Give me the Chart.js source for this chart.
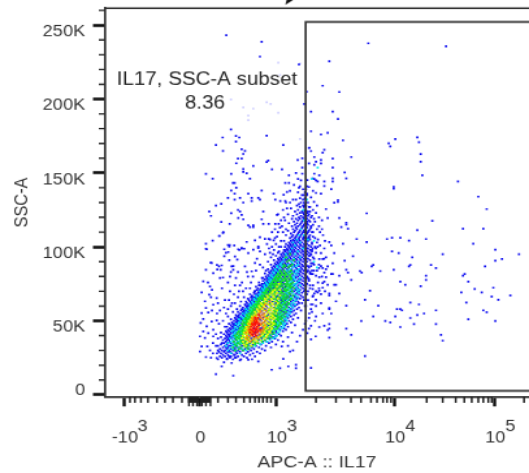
<!DOCTYPE html>
<html>
<head>
<meta charset="utf-8">
<script src="https://cdn.jsdelivr.net/npm/chart.js@4"></script>
<style>
html, body { margin: 0; padding: 0; background: #fff; overflow: hidden; }
</style>
</head>
<body>
<canvas id="plot" width="407" height="418" style="width:529px;height:473px;display:block;filter:blur(0.35px)"></canvas>
<script>
// x values are display channels of the biexponential APC-A axis, y values are SSC-A in thousands
var xTickValues = [24, 99.5, 176, 294.3, 394.3];
var xTickLabels = ["-10", "0", "10", "10", "10"];
var xTickPowers = ["3", "", "3", "4", "5"];
var yTickValues = [0, 50, 100, 150, 200, 250];
var yTickLabels = ["0", "50K", "100K", "150K", "200K", "250K"];
var xMinorTicks = [30, 35, 41, 48, 57, 65, 73, 82, 118, 128, 136, 144, 150, 155, 159, 163, 167, 171, 216, 236, 251, 261, 271, 277, 283, 287, 291, 326.7, 342.7, 355.7, 364.3, 371.7, 378.3, 383.3, 388.3, 391.7, 424];
var xZeroTicks = [89, 90.5, 92, 93.5, 95, 96.5, 98, 101, 102.5, 104, 105.5, 107, 108.5, 110];
var xZeroTallTicks = [89, 93, 97, 102, 106, 110.5];
var yMinorTicks = [10, 20, 30, 40, 60, 70, 80, 90, 110, 120, 130, 140, 160, 170, 180, 190, 210, 220, 230, 240, 260];
var gateX = [440, 205.7, 205.7, 440];
var gateY = [252.2, 252.2, 2.7, 2.7];

// single events read one by one, as [channel, SSC-A] pairs
var paleEvents = [178.3,224.6, 180,216.3, 131,199.8, 143.3,194.4, 153.3,193.5, 148.3,188.8, 148.3,185.8, 166.7,197.8, 170.7,196.6, 178.3,190.8, 200,224, 200,173];
var sparseEvents = [
  126.3,243.1, 161.7,238.8, 160,228.7, 199,223.5, 206.7,205, 204.3,196.6, 131,179.5, 122.7,174, 136,175, 139.3,174, 136,171.2, 166.7,175.2, 116,168.9, 183.3,168.9, 197.7,158.8, 202.3,159.9, 209.3,167.1, 141.7,166,
  123,164.9, 145,164.9, 143.3,162.9, 138,159.7, 141.7,159.7, 136.3,156.6, 153.3,154.8, 168.3,158.4, 166.7,157.5, 143.3,152.7, 143.3,150.7, 146.7,149.8, 172,152.5, 182,152.5, 106,149.4, 131.3,149.4, 189,148.5, 112.7,146.2, 150,146.2, 133,143.3, 134.7,143.3, 185.3,143.3, 189,143.3, 136.3,140.1, 131.3,138.1, 134.7,136, 148.3,136, 161.7,138.1, 173.7,136, 183.7,135.2, 187,137.2, 128,133.1, 134.7,132, 140,133.1, 151.7,133.1, 151.7,131.1, 158.3,133.1, 160,132, 143.3,130, 175.3,132, 180.3,131.1, 185.3,131.1, 121.3,129.1, 116,128, 109.3,123.9, 111,121, 131.3,122.8, 138,125, 140,123.9, 141.7,121.6, 163.3,123.9, 177,121.6, 138.3,119.6, 143.3,118.7, 161.7,118.7, 163.3,115.5, 168.7,115.5, 129.7,115.5, 121.3,116.9, 148.3,114.6, 150,113.5, 153.3,114.6, 153.3,113.5, 175.3,115.5, 178.7,115.5, 123,109.4, 119.3,107.4, 106,102.2, 155,104.5, 146.7,103.4, 128,101.3, 129.7,101.3, 160,106.5, 165,105.4, 168.7,105.4, 173.7,104.5, 158.3,100.2, 138.3,98.4, 141.7,98.9, 124.3,98.4,
  268.3,237.7, 346,235.7, 229.3,225.5, 222.7,209, 239.3,204.8, 211,191.5, 232.7,191.5, 238,186.5, 211,178.2, 221,176.1, 227.7,177.2, 243,172.1, 288.7,170, 290.3,168, 295.3,173, 317.3,174.1, 319,170.9, 320.7,162.8, 320.7,157.6, 322.3,148.4, 358,144.3, 293.7,140.7, 293.7,139.5, 378.3,134, 386.7,125.6, 266.7,122.7, 332.3,117.7, 246.3,116.4, 246.3,115.2, 239.3,119.5, 241.3,113.4, 248,112.3, 317.3,111.4, 363,112.3, 383.3,112.3, 251.3,160.8, 244.7,150.4, 246.3,146.4, 232.7,159.7, 232.7,153.6, 232.7,146.4, 232.7,144.3, 224.3,144.3, 224.3,141.2, 231.3,139.1, 221,136, 238,131.7, 237.9,130.5, 234.3,129.9, 226,125.6, 227.7,119.5, 224.3,165.7, 222.7,163.7, 209,166.9, 211,164.8, 214.3,160.8, 221,158.8, 221,156.5, 216,157.6, 209,156.5, 214.3,155.6, 202.3,153.6, 219.3,148.4, 214.3,149.5, 202.3,149.5, 207.3,145.2, 212.7,146.4, 214.3,146, 216,145, 217.7,144.3, 209,140.5, 213,138, 216,136.5, 211,133.5, 207,136, 214,130.5, 217,128, 210,127, 208,124, 212,121, 216,123, 219,120, 222,118,
  256.7,105.3, 266.7,103.3, 287,105.3, 292,106.2, 300.3,106.2, 309,104.2, 326,105.3, 373.3,102.2, 243,102.2, 395.3,98.1, 298.7,95.9, 292,97, 342.7,95, 419,95, 253,93.8, 312.3,92.9, 402,91.8, 395.3,90.7, 244.7,90.7, 331,87.8, 273.3,87.8, 271.7,86.9, 310.3,87.8, 309,86.9, 336,85.7, 385,86.9, 293.7,84.6, 246.3,84.6, 248,82.6, 260,83.7, 261.7,82.6, 280.3,83.7, 326,80.5, 326,77.6, 364.7,81.7, 363,80.5, 251.3,77.6, 300.3,76.5, 368.3,76.5, 305.3,74.4, 320.7,73.5, 393.3,72.4, 374.7,71.5, 270,70.4, 361.3,69.3, 381.7,69.3, 410.3,67.2, 391.7,66.3, 265,64.3, 398.3,64.3, 366.3,62.3, 310.3,62.3, 319,61.1, 278.3,60.2, 246.3,60.2, 297,58, 300.3,58, 302,57.1, 336,57.1, 383.3,57.1, 386.7,55.9, 324,55, 317.3,53.9, 295.3,53, 273.3,53, 310.3,51.9, 368.3,51, 285.3,49.9, 290.3,49, 261.3,49.9, 395.3,49.9, 314,47.8, 336,47.8, 300.3,45.8, 246.3,44.7, 251.3,40.6, 341,40.6, 342.7,36.6, 265,26.2, 211,18.1,
  229.3,103.3, 231.3,101, 234.3,95.9, 226,93, 221,95.9, 216,99, 212.7,99, 217.7,100, 224.3,99, 219.3,91.8, 222.7,91.8, 232.7,88.9, 227.7,86.9, 219,85.7, 222.7,85.7, 224.3,82.6, 231.3,81.7, 232.7,81.7, 239.3,80.5, 226,79.6, 219.3,79.6, 216,80.5, 212.7,81.7, 211,81.7, 224.3,76.5, 222.7,75.6, 227.7,74.4, 234.3,74.4, 236,74.4, 222.7,72.4, 219.3,70.4, 217.7,69.3, 221,68.1, 229.3,68.4, 239.3,68.4, 212.7,71.5, 214.3,68.4, 212.7,66.3, 216,64.3, 211,61.1, 212.7,61.1, 229.3,67.2, 236,63.2, 229.3,58.7, 229.3,58, 222.7,55, 231.3,55, 216,53, 209.3,55, 211,46.7, 219.3,45.8, 224.3,46.7, 229.3,47.8, 227.7,43.8, 229.3,44.7, 209,44.7, 215.7,39.5, 211,37.5, 229.3,38.6, 207.3,41.7,
  106,98.8, 111.7,89.1, 103.3,76.7, 106,84.6, 119,86.9, 113.3,82.3, 121.7,87.5, 135,93.6, 137.3,91.4, 131.7,86.9, 141.7,99.3, 148.3,95.9, 153.3,98.1, 158.3,99.3, 133.3,84.6, 145,86.9, 155,89.1, 130,80, 151.7,83.5, 110,73.3, 101.7,69.3, 109.3,67.7, 116.7,65.4, 105,63.2, 113.3,60.9, 106,58.7, 101.7,55.3, 108.3,55.7, 103.3,51.2, 100.7,48.5, 106.7,46.3, 111.7,49.6, 116.7,50.3, 113.3,44, 103.3,42.9, 108.3,41.7, 100,39.5, 105,38.4, 113.3,39.5, 101.7,32.7, 107.3,32.7, 100,29.3, 106,25.5, 116.7,24.8, 116,14, 121.7,19.2, 133.3,12.9, 171.7,16.9, 180,18, 188.3,19.2, 196,20.3, 196,18, 190,29.3, 181.7,32.7, 183.3,24.2, 158.3,22.6, 148.3,23.7, 140,23.3, 131.7,21.5, 124,22, 127,24.5, 135,25,
  106.7,98.4, 112.7,104.2, 119.3,107.4, 123.3,110, 129.3,100.3, 134.3,101, 139.3,98, 144.3,98.8, 128.3,96.5, 124.3,93.8, 129.3,91, 133.3,87, 126,96, 110.7,89.3, 117,87.8, 120.7,84.5, 117.3,84.7, 131,83, 138,83, 148,80, 136,79, 123,79.3, 120,79, 122,72, 130,70, 140,74, 150,72, 134,68, 143,70, 128,76, 108,76, 112,71, 111,66, 125,64, 118,62, 138,66, 132,62, 124,59, 120,57, 112,57, 117,55, 128,53, 123,50, 119,48, 125,46, 121,42, 116,41, 118,38, 113,35, 116,33, 110,30, 113,28, 118,30, 111,25,
  128,58, 131,60, 126,55, 133,56, 129,64, 135,62, 137,58, 141,63, 144,66, 139,70, 146,72, 142,76, 135,74, 151,76, 147,83, 153,80, 156,84, 160,88, 163,86, 157,92, 165,95, 160,97, 168,90, 170,96, 172,100, 167,102, 175,106, 178,110, 182,114, 172,110, 185,118, 188,122, 191,126, 183,125, 178,122, 186,130, 193,132, 190,138, 194,142, 198,146, 196,150, 199,140, 201,145,
  206,60, 208,64, 207,68, 210,72, 206,76, 209,78, 213,74, 208,84, 211,87, 214,92, 210,94, 207,99, 212,102, 215,106, 209,106, 213,110, 217,112, 211,114, 207,117, 215,117, 209,122, 205,128, 213,125, 218,105, 220,110, 216,96, 219,88, 214,84, 218,76, 216,70, 209,52, 206,50, 212,56, 216,60, 221,62, 225,70,
  171,93, 174,98, 169,99, 176,102, 179,100, 173,95, 177,107, 181,104, 183,110, 180,113, 186,112, 189,116, 184,120, 181,118, 187,126, 190,130, 192,119, 175,112, 170,105, 178,96, 166,84, 163,79, 159,74, 155,70, 152,66, 148,60, 144,55, 140,49, 136,44, 133,40,
  212,98, 217,103, 220,101, 223,108, 219,114, 214,119, 222,112, 225,104, 211,95, 213,89, 217,84, 221,87, 224,92, 210,83, 213,67, 219,72, 222,80, 226,85, 211,58, 215,50, 205,48, 203,44, 200,40, 197,36, 193,30, 188,33
];

// dense body of the population by density level, each row is [SSC-A, channel, channel, ...]
var blueRows = [
  [24,118,127,133,141,152],[25,122,130,136,147],[26,120,125,131,129,138,144,155],[27,123,128,135,134,142,150],[28,117,121,126,132,137,146,153,160],[29,119,124,128,130,136,140,148,157],[30,125,122,133,129,138,143,151,165],[31,120,127,131,135,141,145,154,149,162],[32,123,126,128,134,139,137,147,152,159,171],[33,118,129,131,125,136,142,146,156,150,166],
  [34,121,127,133,135,140,144,153,148,161,176],[35,124,128,122,131,137,142,150,146,158,155,169],[36,126,130,134,138,141,145,152,157,163,172,167,183],[37,123,129,127,133,136,143,148,155,160,165,178],[38,125,131,128,135,139,147,151,158,162,170,168,175],[39,121,127,133,130,137,144,149,154,161,166,164,173,188],[40,129,126,132,135,139,142,150,156,159,168,171,176,181],[41,124,130,134,128,137,141,146,153,160,165,169,174,179],[42,127,133,131,136,140,144,149,155,163,167,172,170,177,192],[43,129,126,134,138,142,147,152,158,161,165,173,176,183],
  [44,131,128,135,137,143,140,150,156,164,168,171,175,180,186],[45,133,130,136,139,141,146,154,160,162,169,173,178,174,184],[46,127,132,134,138,144,142,149,157,166,163,170,176,181,188],[47,134,131,136,140,143,147,152,159,165,168,172,175,179,185,195],[48,129,133,137,135,141,145,150,155,162,167,171,177,174,182,187],[49,136,132,138,140,144,148,153,158,164,169,173,176,181,184,191],[50,134,137,139,142,146,151,156,161,166,170,175,178,183,189,186],[51,131,136,141,138,143,149,147,154,160,168,172,177,180,185,193],[52,135,139,142,140,145,150,152,158,163,171,174,179,182,188,198],[53,137,141,138,144,148,147,155,160,165,170,176,181,186,184,191],
  [54,139,143,136,146,149,153,157,162,168,173,178,175,183,189,194],[55,140,144,142,147,151,154,159,164,169,172,180,177,187,185,196],[56,138,143,145,149,152,148,156,161,167,174,176,182,184,190,192],[57,141,146,144,150,154,158,163,171,166,179,181,186,188,194,201],[58,145,142,148,147,153,156,160,165,169,175,177,183,180,191,197],[59,143,147,150,152,155,158,162,167,173,178,182,185,189,193,199],[60,140,148,146,151,154,157,161,166,171,176,180,184,187,192,195,205],[61,149,145,152,150,156,159,164,168,174,179,183,186,190,197,194],[62,147,151,153,155,158,163,170,166,176,181,185,188,192,199,202],[63,150,146,154,152,157,160,165,172,178,175,183,187,191,195,198],
  [64,152,149,155,158,156,162,167,170,177,181,185,189,193,196,204],[65,148,153,157,155,160,164,169,174,179,184,187,182,192,200,197],[66,154,151,159,156,162,166,171,176,180,186,183,189,195,198,203],[67,156,152,158,161,160,165,168,173,178,182,188,191,194,201],[68,150,157,155,159,163,167,170,175,180,184,187,190,196,199,206],[69,158,154,160,162,165,169,172,177,182,186,192,189,197,202],[70,155,161,159,164,163,168,174,171,179,185,183,190,194,199,204,208],[71,160,157,162,165,167,170,176,181,187,184,192,196,200,205],[72,163,158,161,166,169,172,178,174,183,188,191,195,198,203],[73,156,162,165,164,168,171,175,180,185,189,193,197,201,206],
  [74,160,166,163,170,167,173,177,182,186,190,194,199,204,210],[75,164,162,168,166,172,175,179,184,188,192,196,202,207],[76,159,165,169,167,171,174,178,183,187,181,191,198,200,205],[77,167,163,170,173,176,180,185,189,194,197,203,209],[78,168,165,172,169,175,178,182,186,190,193,199,201,206],[79,162,170,167,174,177,171,180,184,188,192,196,204,208],[80,169,166,173,176,179,172,183,187,191,195,198,202,207],[81,171,168,175,178,174,181,185,189,193,200,197,205],[82,165,173,170,177,180,176,184,188,192,196,199,203,210],[83,172,169,176,179,182,186,190,194,198,201,207],
  [84,174,171,178,175,181,184,188,192,195,200,204,212],[85,168,176,173,180,177,183,187,191,197,202,199,206],[86,175,172,179,182,185,189,193,196,201,205,209],[87,177,174,181,178,184,187,191,195,199,203,208],[88,171,179,176,183,186,190,194,198,202,206,214],[89,178,175,182,180,185,188,192,197,200,205,211],[90,180,177,184,187,183,191,195,199,203,207],[91,174,182,179,186,189,193,197,201,205,210],[92,181,184,178,188,185,191,196,200,204,208],[93,183,180,187,190,194,198,202,206,213],
  [94,176,185,182,189,192,196,200,204,209],[95,184,186,181,191,188,194,198,203,207,211],[96,187,183,190,193,197,201,205,209],[97,179,185,189,192,195,199,203,207,212],[98,186,188,184,191,194,198,202,206,210],[99,190,187,193,196,200,204,208],[100,181,189,185,192,195,199,203,206,211,215],[101,191,188,194,197,201,205,209],[102,186,193,190,196,200,204,207],[103,192,189,195,198,202,206,212],[104,184,194,191,197,200,205,208],[105,193,196,199,203,207,210],
  [106,190,195,199,203,205,208],[107,192,196,200,204,209,213],[108,186,193,197,201,206,210],[109,191,198,202,207],[110,194,199,203,205,208,212],[111,188,195,200,204,206,209],[112,193,197,201,205,210],[113,196,202,207,211],[114,192,198,203,206],[115,195,200,204,208,213],
  [116,197,201,205,207],[117,194,202,206,210],[118,198,203,205,209],[119,196,200,204,207],[120,199,203,206,211],[121,193,201,205,208],[122,197,204,206],[123,200,203,207],[124,195,202,205,210],[125,198,204,206],[127,200,204,209],[128,197,203,206],[129,199,205],[130,201,204,208],[132,196,203,206],[133,200,205],[135,202,204,207],[137,198,205],[139,203,206],[141,200,207]
];
var cyanRows = [
  [28,131,140],[30,128,136,146],[31,133,142],[32,130,138,150],[33,126,134,155],[34,132,137,160],[35,128,135,141,163],[36,131,138,167],[37,133,140,162,170],[38,130,136,173],[39,134,139,164,175],[40,132,137,170,177],[41,134,142,175],[42,135,141,178],[43,132,137,174,180],[44,134,140,172,178],[45,137,142,175,182],[46,135,140,180,184],[47,138,145,177,183],[48,136,140,178,185],[49,139,146,178,183],[50,141,145,181,187],[51,139,144,179,186],[52,143,148,176,184],[53,141,146,183,188],[54,145,149,180,187],[55,143,147,182,190],[56,146,150,179,188],[57,148,152,185,191],[58,146,151,183,189],[59,149,153,178,186,193],[60,151,155,184,191],[61,150,154,180,189,195],[62,153,156,183,192],[63,152,157,185,194],[64,155,158,188,196],[65,154,159,183,193],[66,157,161,182,191,198],[67,156,160,185,196],[68,159,163,188,194],[69,161,165,186,192,199],[70,160,164,189,197],[71,163,166,191,199],[72,162,165,188,197],[73,165,172,190,196],[74,164,168,193,200],[75,167,170,188,195],[76,166,170,190,197],[77,169,172,192,199],[78,171,180,195],[79,169,174,193,200],[80,172,175,194],[81,171,177,190,197],[82,174,189,195],[83,173,178,192,198],[84,176,187,196],[85,175,180,190,199],[86,178,193,217],[87,177,182,196],[88,180,188,198],[89,181,193],[90,183,191,198,214],[92,184,194],[93,187,200],[95,186,195],[97,190,198],[99,192,203],[101,195],[103,193,200],[104,214],[105,197,208],[108,199,204],[112,201,206],[118,204],[125,203],[132,207],[146,212],[153.6,217.7]
];
var greenRows = [
  [30,135,143],[31,139,148],[32,133,141,146],[33,137,144,152,148],[34,135,140,147,155],[35,138,143,150,158,146,155],[36,134,141,146,153,162],[37,137,144,149,158,165,141,153],[38,139,136,147,154,168],[39,141,137,144,161,171,147,158],[40,135,139,143,147,164,169],[41,140,137,145,166,172,142,149,162],[42,138,143,147,163,168,174],[43,141,145,139,167,171,143,163],[44,143,147,165,170,175],[45,140,144,149,168,173,177,146,166],[46,145,142,149,167,172,178],[47,143,147,170,174,179,149,164,176],[48,146,142,150,168,173,176,181],[49,144,148,171,175,180,146,151,173],[50,147,143,151,170,174,178,183],[51,149,145,153,169,176,181,147,151,166,178],[52,146,150,172,178,182],[53,148,153,171,175,180,185,150,167,178],[54,151,147,155,174,177,182],[55,149,153,173,179,184,151,155,170,176],[56,152,156,176,181,186],[57,150,155,174,178,183,153,159,169,176],[58,153,157,160,177,180,185],[59,155,151,159,175,182,187,157,163,171,179],[60,157,153,161,178,181,186],[61,155,159,163,176,183,188,157,161,170,180],[62,158,162,165,179,185,189],[63,156,160,164,174,181,187,158,167,178,184],[64,159,163,167,177,183,190],[65,161,165,169,175,180,186,191,158,163,173,183],[66,160,164,168,178,184,188],[67,162,166,170,176,182,187,193,163,169,174,184],[68,165,169,173,180,185,190],[69,163,167,172,178,183,189,165,170,175,181],[70,166,170,175,181,186,192],[71,168,172,177,184,188,166,174,180,186],[72,167,171,176,179,185,190,194],[73,169,174,178,183,187,192,171,176,181,190],[74,171,175,180,186,189],[75,173,177,182,185,191,170,175,180,188],[76,172,176,181,187,193],[77,175,179,184,189,173,177,182,187],[78,174,178,183,186,191],[79,177,181,188,175,179,185,191],[80,176,180,185,190],[81,179,183,187,177,181,185,190],[82,178,182,186,192],[83,181,185,189],[84,180,184,191],[86,183,188],[87,185,190],[88,184,192],[90,187],[91,189,194],[93,186],[95,190]
];
var yellowRows = [
  [33,146,151],[34,144],[35,147,153],[36,143,150,157],[37,146,155,161],[38,142,149,164],[39,145,159,166],[40,143,147,161,167],[41,146,163,168],[42,144,148,165,170],[43,147,164,169],[44,145,149,166,171],[45,147,168,172],[46,146,151,165,170],[47,149,166,172],[48,148,152,164,169,174],[49,150,167,172],[50,149,153,165,170],[51,151,168,173],[52,153,166,171,175],[53,152,156,169,173],[54,154,165,172],[55,156,167,170,176],[56,155,159,168,173],[57,158,164,171,177],[58,157,162,169,174],[59,160,166,172],[60,159,164,170,176],[61,162,168,173],[62,161,166,172,178],[63,164,170,176],[64,166,172],[65,165,171,178],[66,168,174],[67,167,173,180],[68,170,176],[69,172,177],[70,173],[71,175,180],[73,177],[75,179]
];
var orangeRows = [
  [36,150],[37,152,148],[38,146,154,158],[39,149,156],[40,147,151,160],[41,150,158],[42,146,152,161],[43,149,151,160,163],[44,148,162],[45,150,158,164],[46,148,159,163],[47,151,161,165],[48,149,161],[49,152,158,163],[50,151,155,160,165],[51,153,158,163],[52,152,156,161,167],[53,155,160,164],[54,157,162],[55,159,164],[56,161],[57,160,166],[59,163],[61,165],[63,169]
];
var redRows = [
  [40,153,156],[41,152,155],[42,150,154,157],[43,153,155,158],[44,150,152,155,157,160],[45,153,156],[46,151,154,157],[47,153,155,158],[48,152,154,156,159],[49,155,157],[50,154,157],[51,156],[52,155,158],[54,159]
];

function pairsToPoints(pairs) {
    var points = [];
    for (var i = 0; i < pairs.length; i += 2) {
        points.push({ x: pairs[i], y: pairs[i + 1] });
    }
    return points;
}

function rowsToPoints(rows) {
    var points = [];
    rows.forEach(function (row) {
        for (var i = 1; i < row.length; i++) {
            points.push({ x: row[i], y: row[0] });
        }
    });
    return points;
}

function dots(points, color) {
    return {
        data: points,
        pointStyle: "rect",
        pointRadius: 1.2,
        pointHoverRadius: 1.2,
        pointBorderWidth: 0,
        pointBackgroundColor: color,
        showLine: false
    };
}

// Multi line tick so the power sits up and to the right of the base
function xTickLabel(index) {
    if (xTickPowers[index] === "") {
        return ["", xTickLabels[index] + "  "];
    }
    if (xTickLabels[index] === "-10") {
        return ["     " + xTickPowers[index], xTickLabels[index] + "  "];
    }
    return ["    " + xTickPowers[index], xTickLabels[index] + "  "];
}

var plotDecorations = {
    id: "plotDecorations",
    afterDraw: function (chart) {
        var ctx = chart.ctx, area = chart.chartArea, xs = chart.scales.x, ys = chart.scales.y;
        ctx.save();
        ctx.strokeStyle = "#222";
        ctx.lineWidth = 1.5;
        ctx.beginPath();
        xMinorTicks.concat(xZeroTicks).forEach(function (v) {
            var px = xs.getPixelForValue(v);
            ctx.moveTo(px, area.bottom);
            ctx.lineTo(px, area.bottom + 5.5);
        });
        ctx.stroke();
        ctx.lineWidth = 1.4;
        ctx.beginPath();
        xZeroTallTicks.forEach(function (v) {
            var px = xs.getPixelForValue(v);
            ctx.moveTo(px, area.bottom);
            ctx.lineTo(px, area.bottom + 8.5);
        });
        ctx.stroke();
        ctx.lineWidth = 1.4;
        ctx.beginPath();
        yMinorTicks.forEach(function (v) {
            var py = ys.getPixelForValue(v);
            ctx.moveTo(area.left, py);
            ctx.lineTo(area.left - 4.5, py);
        });
        ctx.stroke();

        // top of the frame
        ctx.lineWidth = 1.6;
        ctx.strokeStyle = "#333";
        ctx.beginPath();
        ctx.moveTo(area.left, area.top);
        ctx.lineTo(area.right, area.top);
        ctx.stroke();

        // clipped marker above the frame
        ctx.fillStyle = "#111";
        ctx.beginPath();
        ctx.moveTo(219.5, 4.2);
        ctx.lineTo(225.5, 0);
        ctx.lineTo(220.5, 0);
        ctx.closePath();
        ctx.fill();

        // gate label
        ctx.fillStyle = "#222";
        ctx.font = "15.8px 'Liberation Sans'";
        ctx.textAlign = "center";
        ctx.textBaseline = "middle";
        ctx.fillText("IL17, SSC-A subset", xs.getPixelForValue(107), ys.getPixelForValue(213));
        ctx.fillText("8.36", xs.getPixelForValue(105), ys.getPixelForValue(197));
        ctx.restore();
    }
};

var gatePoints = gateX.map(function (x, i) { return { x: x, y: gateY[i] }; });

new Chart(document.getElementById("plot"), {
    type: "scatter",
    data: {
        datasets: [
            {
                data: gatePoints,
                showLine: true,
                borderColor: "#333",
                borderWidth: 1.7,
                pointRadius: 0,
                tension: 0
            },
            dots(rowsToPoints(redRows), "#ff1000"),
            dots(rowsToPoints(orangeRows), "#ff9000"),
            dots(rowsToPoints(yellowRows), "#f0ff00"),
            dots(rowsToPoints(greenRows), "#10e820"),
            dots(rowsToPoints(cyanRows), "#00e8f0"),
            dots(rowsToPoints(blueRows).concat(pairsToPoints(sparseEvents)), "#0808f0"),
            dots(pairsToPoints(paleEvents), "#cfcfff")
        ]
    },
    options: {
        responsive: false,
        animation: false,
        events: [],
        layout: { autoPadding: false, padding: { top: 7.3, right: 0, left: 0, bottom: 0 } },
        plugins: { legend: { display: false }, tooltip: { enabled: false } },
        scales: {
            x: {
                type: "linear",
                min: 4.7,
                max: 429,
                afterBuildTicks: function (scale) {
                    scale.ticks = xTickValues.map(function (v) { return { value: v }; });
                },
                afterFit: function (scale) {
                    scale.height = 67.4;
                    scale.paddingLeft = 0;
                    scale.paddingRight = 0;
                },
                grid: { drawOnChartArea: false, tickLength: 8.5, tickWidth: 2.4, tickColor: "#111" },
                border: { color: "#333", width: 1.7 },
                ticks: {
                    autoSkip: false,
                    maxRotation: 0,
                    padding: 12.5,
                    labelOffset: 4.6,
                    color: "#333",
                    font: { family: "'Liberation Sans'", size: 14, lineHeight: "10.6px" },
                    callback: function (value, index) { return xTickLabel(index); }
                },
                title: {
                    display: true,
                    text: "APC-A :: IL17",
                    color: "#333",
                    font: { family: "'Liberation Sans'", size: 15 },
                    padding: { top: 0, bottom: 0 }
                }
            },
            y: {
                type: "linear",
                min: -1.35,
                max: 261.4,
                afterBuildTicks: function (scale) {
                    scale.ticks = yTickValues.map(function (v) { return { value: v }; });
                },
                afterFit: function (scale) {
                    scale.width = 80.5;
                    scale.paddingTop = 0;
                    scale.paddingBottom = 0;
                },
                grid: { drawOnChartArea: false, tickLength: 9, tickWidth: 2.6, tickColor: "#111" },
                border: { color: "#333", width: 1.7 },
                ticks: {
                    autoSkip: false,
                    padding: 6,
                    labelOffset: 6,
                    color: "#333",
                    font: function (ctx) {
                        return { family: "'Liberation Sans'", size: 14, lineHeight: ctx.index === 0 ? "19px" : "14px" };
                    },
                    callback: function (value, index) {
                        return index === 0 ? [yTickLabels[index], ""] : yTickLabels[index];
                    }
                },
                title: {
                    display: true,
                    text: "SSC-A",
                    color: "#333",
                    font: { family: "'Liberation Sans'", size: 14.4 },
                    padding: { top: 8, bottom: 0 }
                }
            }
        }
    },
    plugins: [plotDecorations]
});
</script>
</body>
</html>
